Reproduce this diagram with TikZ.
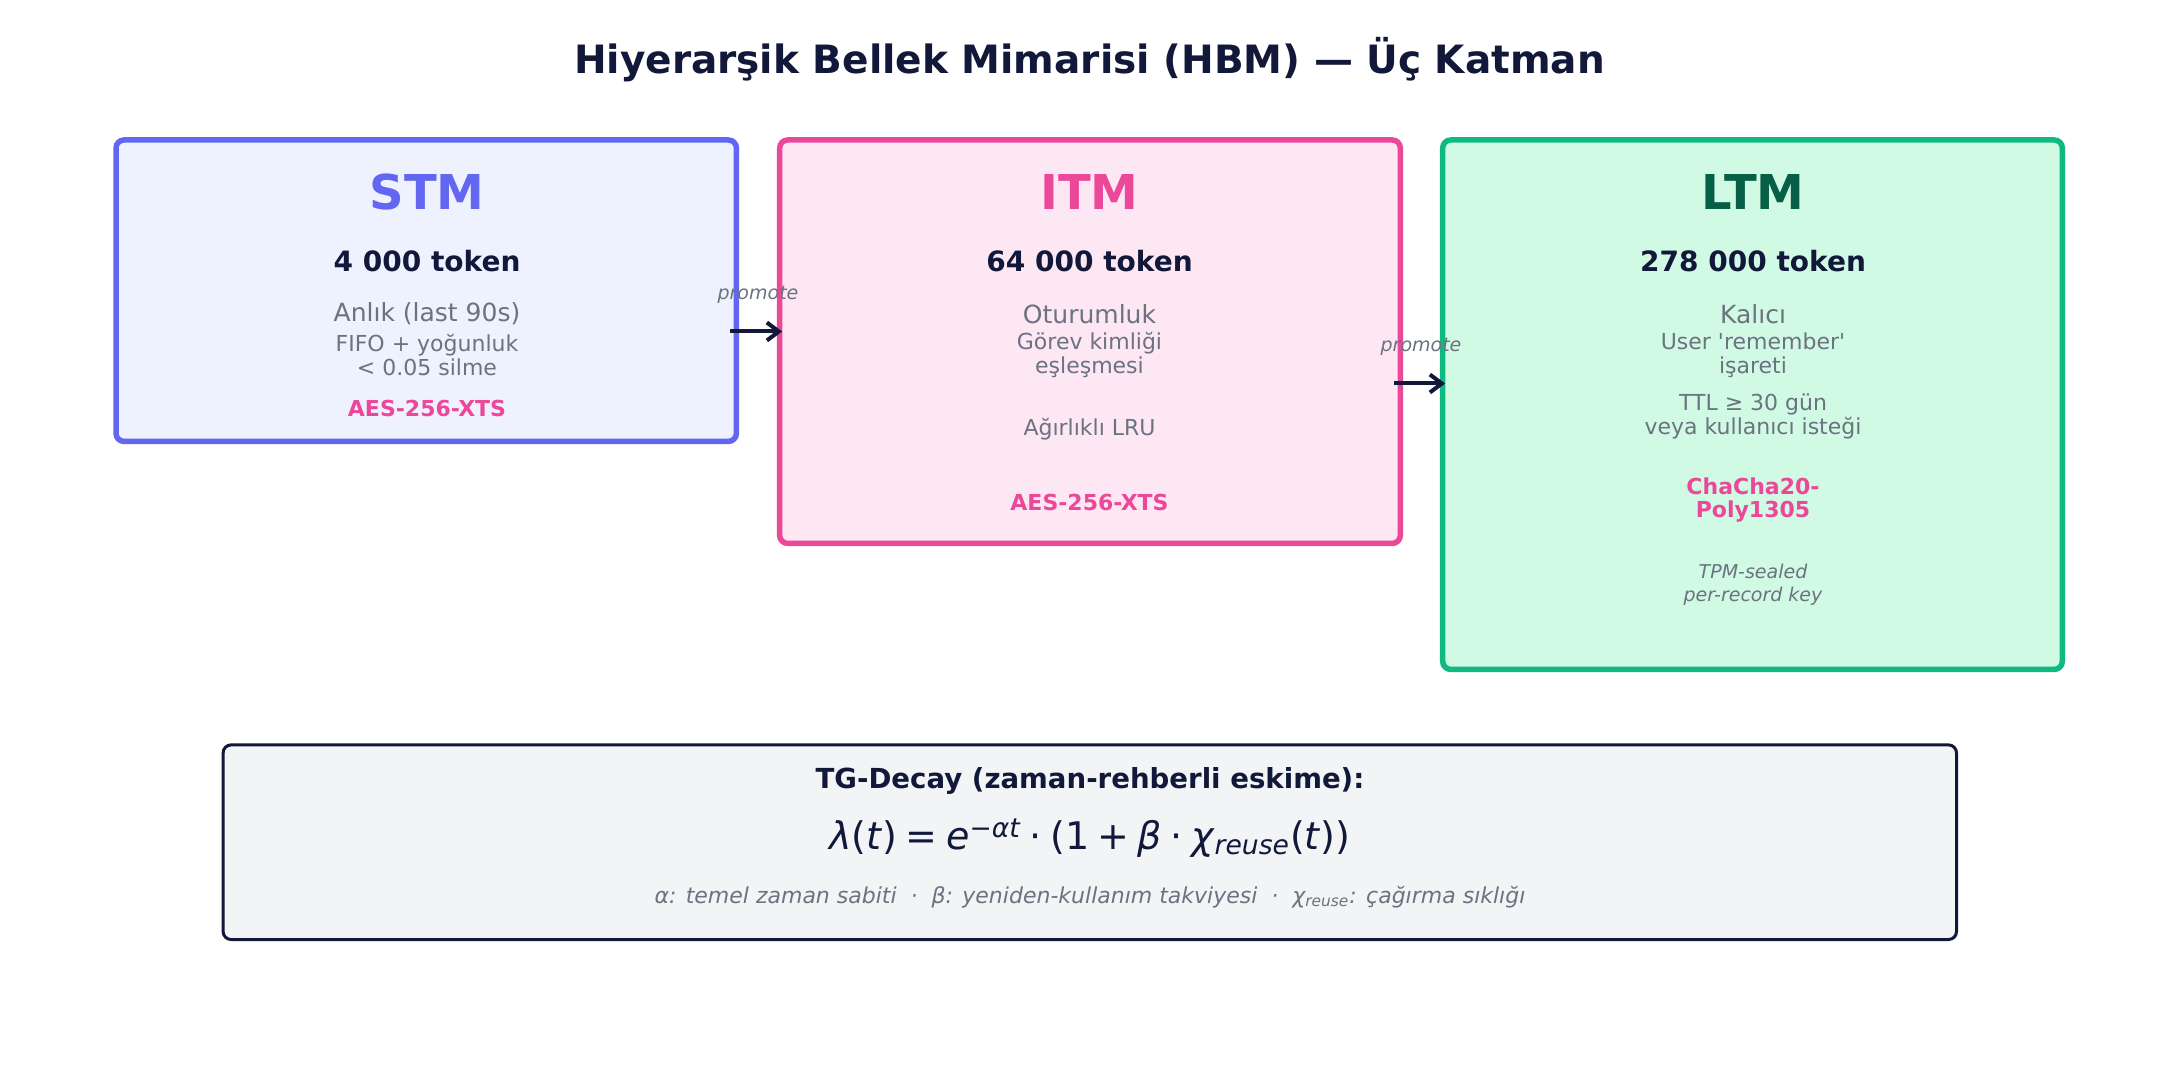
\documentclass[tikz,border=0pt]{standalone}
\usepackage{fontspec}
\setmainfont{DejaVu Sans}
\usepackage{xcolor}
\usepackage{tikz}
\usetikzlibrary{arrows.meta}

\definecolor{navy}{HTML}{111839}
\definecolor{grayt}{HTML}{6B7280}
\definecolor{pinkc}{HTML}{EC4899}
\definecolor{stmc}{HTML}{6366F1}
\definecolor{stmbg}{HTML}{EEF2FF}
\definecolor{itmbg}{HTML}{FCE7F3}
\definecolor{ltmc}{HTML}{10B981}
\definecolor{ltmbg}{HTML}{D1FAE5}
\definecolor{ltmt}{HTML}{065F46}
\definecolor{decaybg}{HTML}{F3F4F6}

\newcommand{\mvar}[1]{\textit{#1}}
\newcommand{\eqsp}{\hspace{0.22em}}

\tikzset{
    layerbox/.style={draw,rounded corners=4pt,line width=2.75pt,inner sep=0pt,outer sep=0pt},
    layername/.style={font=\fontsize{24}{28}\selectfont\bfseries},
    tokens/.style={font=\fontsize{14}{16}\selectfont\bfseries,text=navy},
    kind/.style={font=\fontsize{12.5}{14}\selectfont,text=grayt},
    detail/.style={font=\fontsize{11}{12}\selectfont,text=grayt,align=center},
    cipher/.style={font=\fontsize{11}{11.5}\selectfont\bfseries,text=pinkc,align=center},
    keynote/.style={font=\fontsize{9.5}{11.5}\selectfont\itshape,text=grayt,align=center},
    promo/.style={-{Straight Barb[length=6pt,width=9pt]},line width=2pt,draw=navy,
        shorten <=-3pt,shorten >=-1.25pt},
    promolabel/.style={font=\fontsize{9.5}{11}\selectfont\itshape,text=grayt},
}

\begin{document}
\begin{tikzpicture}[x=0.5pt,y=-0.5pt]
    \useasboundingbox[fill=white] (0,0) rectangle (2179,1080);
    \node[font=\fontsize{19.5}{23}\selectfont\bfseries,text=navy] (title) at (1089.5,60) {Hiyerarşik Bellek Mimarisi (HBM) — Üç Katman};

    % layers
    \node[layerbox,draw=stmc,fill=stmbg,minimum width=310.2pt,minimum height=150.7pt] (stm) at (426.2,290.7) {};
    \node[layerbox,draw=pinkc,fill=itmbg,minimum width=310.3pt,minimum height=201.7pt] (itm) at (1090,341.7) {};
    \node[layerbox,draw=ltmc,fill=ltmbg,minimum width=309.8pt,minimum height=264.7pt] (ltm) at (1752.5,404.7) {};

    \node[layername,text=stmc] (stmname) at (427,192) {STM};
    \node[tokens] (stmtok) at (427,261) {4 000 token};
    \node[kind] (stmkind) at (427,314) {Anlık (last 90s)};
    \node[detail] (stmrule) at (427,355) {FIFO + yoğunluk\\< 0.05 silme};
    \node[cipher] (stmenc) at (427,408) {AES-256-XTS};

    \node[layername,text=pinkc] (itmname) at (1089.5,192) {ITM};
    \node[tokens] (itmtok) at (1089.5,261) {64 000 token};
    \node[kind] (itmkind) at (1089.5,314) {Oturumluk};
    \node[detail] (itmrule) at (1089.5,355) {Görev kimliği\\eşleşmesi};
    \node[detail] (itmlru) at (1089.5,429) {Ağırlıklı LRU};
    \node[cipher] (itmenc) at (1089.5,502) {AES-256-XTS};

    \node[layername,text=ltmt] (ltmname) at (1753,192) {LTM};
    \node[tokens] (ltmtok) at (1753,261) {278 000 token};
    \node[kind] (ltmkind) at (1753,314) {Kalıcı};
    \node[detail] (ltmrule) at (1753,355) {User \textquotesingle remember\textquotesingle\\işareti};
    \node[detail] (ltmttl) at (1753,416) {TTL ≥ 30 gün\\veya kullanıcı isteği};
    \node[cipher] (ltmenc) at (1753,500.5) {ChaCha20-\\Poly1305};
    \node[keynote] (ltmkey) at (1753,584.5) {TPM-sealed\\per-record key};

    % promote arrows
    \coordinate (p1) at (758,331.5);
    \coordinate (p2) at (1421,383.5);
    \draw[promo] (stm.east |- p1) to (itm.west |- p1);
    \draw[promo] (itm.east |- p2) to (ltm.west |- p2);
    \node[promolabel] (p1lbl) at (758,295) {promote};
    \node[promolabel] (p2lbl) at (1421,347) {promote};

    % decay formula
    \node[draw=navy,fill=decaybg,rounded corners=4pt,line width=1.5pt,minimum width=866.7pt,minimum height=97.3pt] (decay) at (1089.8,842.2) {};
    \node[font=\fontsize{13.8}{16}\selectfont\bfseries,text=navy] (decayhead) at (1090,781) {TG-Decay (zaman-rehberli eskime):};
    \node[font=\fontsize{19}{22}\selectfont,text=navy] (decayeq) at (1090,838)
        {\mvar{λ}(\mvar{t})\eqsp=\eqsp\mvar{e}\textsuperscript{−\mvar{αt}}\eqsp·\eqsp(1\eqsp+\eqsp\mvar{β}\eqsp·\eqsp\mvar{χ}\textsubscript{\mvar{reuse}}(\mvar{t}))};
    \node[font=\fontsize{11}{13}\selectfont\itshape,text=grayt] (decaykey) at (1090,897)
        {α: temel zaman sabiti \ · \ β: yeniden-kullanım takviyesi \ · \ χ\textsubscript{reuse}: çağırma sıklığı};
\end{tikzpicture}
\end{document}
